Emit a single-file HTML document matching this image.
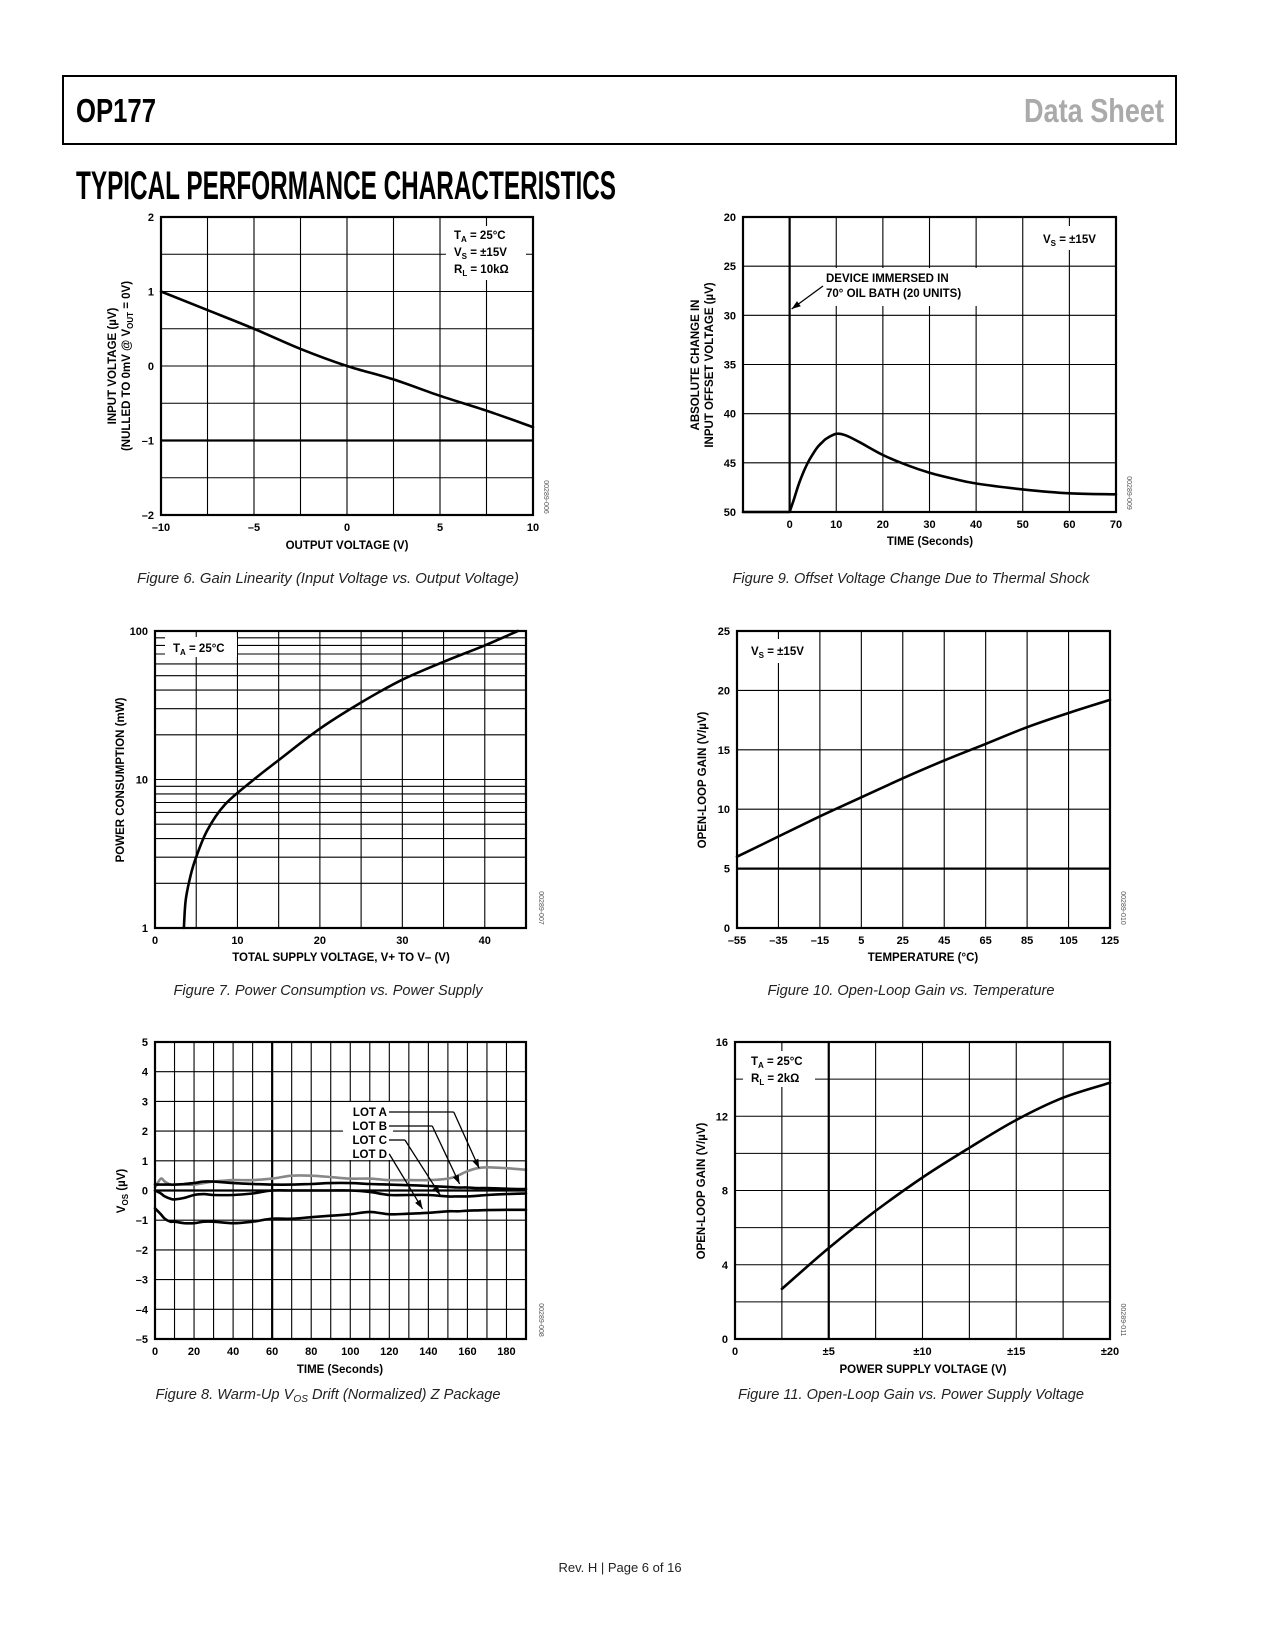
<!DOCTYPE html>
<html><head><meta charset="utf-8"><title>OP177 Typical Performance Characteristics</title>
<style>
html,body{margin:0;padding:0;background:#fff;}
svg{display:block;font-family:"Liberation Sans",sans-serif;}
.tk{font-size:11px;font-weight:bold;fill:#000;}
.at{font-size:11.5px;font-weight:bold;fill:#000;}
.cap{font-size:14.5px;font-style:italic;fill:#222;}
.code{font-size:7px;fill:#555;}
</style></head>
<body>
<svg id="page" width="1275" height="1650" viewBox="0 0 1275 1650" xmlns="http://www.w3.org/2000/svg">
<rect x="0" y="0" width="1275" height="1650" fill="#fff"/>
<rect x="63" y="76" width="1113" height="68" fill="none" stroke="#000" stroke-width="2"/>
<text x="76" y="122" font-size="33" font-weight="bold" textLength="80" lengthAdjust="spacingAndGlyphs">OP177</text>
<text x="1164" y="122" font-size="33" font-weight="bold" fill="#aaa" text-anchor="end" textLength="140" lengthAdjust="spacingAndGlyphs">Data Sheet</text>
<text x="76" y="199" font-size="40" font-weight="bold" textLength="540" lengthAdjust="spacingAndGlyphs">TYPICAL PERFORMANCE CHARACTERISTICS</text>
<text x="620" y="1572" font-size="13" text-anchor="middle" fill="#222">Rev. H | Page 6 of 16</text>
</svg>
<script>
// ---------- data ----------
const fig6X = [-10,-7.5,-5,-2.5,0,2.5,5,7.5,10];
const fig6Y = [1.0,0.75,0.5,0.23,0.0,-0.18,-0.4,-0.6,-0.82];
const fig6XTicks = [-10,-5,0,5,10];
const fig6XLabels = ['\u201310','\u20135','0','5','10'];
const fig6YTicks = [2,1,0,-1,-2];
const fig6YLabels = ['2','1','0','\u20131','\u20132'];

const fig9X = [-10,0,1,2,3,4,5,6,7,8,10,12,15,20,25,30,35,40,50,60,70];
const fig9Y = [50,50,48.6,47.1,45.9,44.9,44.1,43.4,42.9,42.5,42.05,42.2,42.9,44.2,45.2,46.0,46.6,47.1,47.7,48.1,48.2];
const fig9XTicks = [0,10,20,30,40,50,60,70];
const fig9XLabels = ['0','10','20','30','40','50','60','70'];
const fig9YTicks = [20,25,30,35,40,45,50];
const fig9YLabels = ['20','25','30','35','40','45','50'];

const fig7X = [3.5,3.7,4.1,4.8,6.3,8.5,12,15,20,25,30,35,40,44];
const fig7Y = [1,1.5,2,2.8,4.5,6.8,10,13.5,22,33,47,62,80,100];
const fig7XTicks = [0,10,20,30,40];
const fig7XLabels = ['0','10','20','30','40'];
const fig7YTicks = [1,10,100];
const fig7YLabels = ['1','10','100'];

const fig10X = [-55,-35,-15,5,25,45,65,85,105,125];
const fig10Y = [6.0,7.7,9.4,11.0,12.6,14.1,15.5,16.9,18.1,19.2];
const fig10XTicks = [-55,-35,-15,5,25,45,65,85,105,125];
const fig10XLabels = ['\u201355','\u201335','\u201315','5','25','45','65','85','105','125'];
const fig10YTicks = [0,5,10,15,20,25];
const fig10YLabels = ['0','5','10','15','20','25'];

const fig8X = [0,3,5,8,10,15,20,25,30,40,50,60,70,80,90,100,110,120,130,140,150,155,160,165,170,180,190];
const lotA = [0.1,0.4,0.3,0.2,0.2,0.2,0.2,0.25,0.3,0.35,0.35,0.4,0.5,0.5,0.45,0.4,0.4,0.35,0.35,0.35,0.4,0.5,0.65,0.75,0.78,0.75,0.7];
const lotB = [0.2,0.2,0.2,0.2,0.2,0.22,0.25,0.3,0.3,0.25,0.22,0.2,0.2,0.22,0.25,0.25,0.22,0.2,0.18,0.15,0.12,0.1,0.1,0.08,0.08,0.06,0.05];
const lotC = [0.0,-0.1,-0.2,-0.28,-0.3,-0.25,-0.15,-0.12,-0.15,-0.15,-0.1,0.0,0.0,0.0,0.0,0.0,-0.05,-0.15,-0.15,-0.15,-0.2,-0.2,-0.2,-0.18,-0.15,-0.12,-0.1];
const lotD = [-0.6,-0.8,-0.95,-1.05,-1.05,-1.1,-1.1,-1.05,-1.05,-1.1,-1.05,-0.95,-0.95,-0.9,-0.85,-0.8,-0.72,-0.8,-0.78,-0.75,-0.7,-0.7,-0.68,-0.67,-0.66,-0.65,-0.65];
const fig8XTicks = [0,20,40,60,80,100,120,140,160,180];
const fig8XLabels = ['0','20','40','60','80','100','120','140','160','180'];
const fig8YTicks = [5,4,3,2,1,0,-1,-2,-3,-4,-5];
const fig8YLabels = ['5','4','3','2','1','0','\u20131','\u20132','\u20133','\u20134','\u20135'];
const lotNames = ['LOT A','LOT B','LOT C','LOT D'];
const lotTipX = [166,156,146,137];
const lotTipY = [0.75,0.22,-0.15,-0.62];
const lotKneeX = [153,142,128,120];

const fig11X = [2.5,5,7.5,10,12.5,15,17.5,20];
const fig11Y = [2.7,4.9,6.9,8.7,10.3,11.8,13.0,13.8];
const fig11XTicks = [0,5,10,15,20];
const fig11XLabels = ['0','\u00b15','\u00b110','\u00b115','\u00b120'];
const fig11YTicks = [0,4,8,12,16];
const fig11YLabels = ['0','4','8','12','16'];

// ---------- helpers ----------
const NS = 'http://www.w3.org/2000/svg';
const svg = document.getElementById('page');
function mk(tag, attrs, parent){
  const e = document.createElementNS(NS, tag);
  for (const k in attrs) e.setAttribute(k, attrs[k]);
  (parent || svg).appendChild(e);
  return e;
}
function nm(e, n){
  
  
  return e;
}
function range(a, b, s){ const r=[]; for(let v=a; v<=b+1e-9; v+=s) r.push(+v.toFixed(6)); return r; }

function chart(o){
  const g = mk('g', {});
  nm(g, o.id);
  const sx = v => o.L + (v - o.xmin) / (o.xmax - o.xmin) * (o.R - o.L);
  const sy = o.ylog
    ? v => o.B - (Math.log10(v) - Math.log10(o.ymin)) / (Math.log10(o.ymax) - Math.log10(o.ymin)) * (o.B - o.T)
    : v => o.B - (v - o.ymin) / (o.ymax - o.ymin) * (o.B - o.T);
  o.vgrid.forEach(v => {
    const l = mk('line', {x1:sx(v), x2:sx(v), y1:o.T, y2:o.B, stroke:'#000', 'stroke-width':(o.heavyX||[]).includes(v)?2.2:1.1}, g);
    nm(l, 'vertical-gridline');
  });
  o.hgrid.forEach(v => {
    const l = mk('line', {x1:o.L, x2:o.R, y1:sy(v), y2:sy(v), stroke:'#000', 'stroke-width':(o.heavyY||[]).includes(v)?2.2:1.1}, g);
    nm(l, 'horizontal-gridline');
  });
  o.xticks.forEach((v,i) => {
    const t = mk('text', {x:sx(v), y:o.B+16, 'text-anchor':'middle', class:'tk'}, g);
    t.textContent = o.xlabels[i];
    nm(t, 'x-tick-label');
  });
  o.yticks.forEach((v,i) => {
    const t = mk('text', {x:o.L-7, y:sy(v)+4, 'text-anchor':'end', class:'tk'}, g);
    t.textContent = o.ylabels[i];
    nm(t, 'y-tick-label');
  });
  const xt = mk('text', {x:o.xtX, y:o.xtY, 'text-anchor':'middle', class:'at'}, g);
  xt.innerHTML = o.xtitle;
  nm(xt, 'x-axis-title');
  o.ytitle.forEach((s,i) => {
    const yt = mk('text', {x:0, y:0, 'text-anchor':'middle', class:'at', transform:`translate(${o.ytX[i]},${o.ytY}) rotate(-90)`}, g);
    yt.innerHTML = s;
    nm(yt, 'y-axis-title');
  });
  const cd = mk('text', {x:0, y:0, class:'code', 'text-anchor':'middle', transform:`translate(${o.codeX},${o.codeY}) rotate(90)`}, g);
  cd.textContent = o.code;
  nm(cd, 'figure-code');
  const cp = mk('text', {x:o.capX, y:o.capY, 'text-anchor':'middle', class:'cap', textLength:o.capW, lengthAdjust:'spacingAndGlyphs'}, g);
  cp.innerHTML = o.caption;
  nm(cp, 'figure-caption');
  return {g, sx, sy};
}
function frame(c, o){
  const f = mk('rect', {x:o.L, y:o.T, width:o.R-o.L, height:o.B-o.T, fill:'none', stroke:'#000', 'stroke-width':2.2}, c.g);
  nm(f, 'plot-frame');
}
function whiteBox(c, x, y, w, h){
  const r = mk('rect', {x, y, width:w, height:h, fill:'#fff'}, c.g);
  nm(r, 'legend-background');
}
function label(c, x, y, html, anchor, name){
  const t = mk('text', {x, y, class:'at', 'text-anchor':anchor||'start'}, c.g);
  t.innerHTML = html;
  nm(t, name);
}
// smooth Catmull-Rom path; points before index `sharp` are joined with straight lines
function curve(c, xs, ys, color, w, name, sharp){
  const P = xs.map((x,i) => [c.sx(x), c.sy(ys[i])]);
  const s = sharp || 0;
  let d = 'M' + P[0][0].toFixed(1) + ',' + P[0][1].toFixed(1);
  for (let i = 1; i <= s; i++) d += ' L' + P[i][0].toFixed(1) + ',' + P[i][1].toFixed(1);
  for (let i = s; i < P.length - 1; i++) {
    const p0 = i > s ? P[i-1] : P[i], p1 = P[i], p2 = P[i+1], p3 = P[i+2] || P[i+1];
    const c1 = [p1[0] + (p2[0]-p0[0])/6, p1[1] + (p2[1]-p0[1])/6];
    const c2 = [p2[0] - (p3[0]-p1[0])/6, p2[1] - (p3[1]-p1[1])/6];
    d += ` C${c1[0].toFixed(1)},${c1[1].toFixed(1)} ${c2[0].toFixed(1)},${c2[1].toFixed(1)} ${p2[0].toFixed(1)},${p2[1].toFixed(1)}`;
  }
  const p = mk('path', {d, fill:'none', stroke:color, 'stroke-width':w, 'stroke-linejoin':'round', 'stroke-linecap':'round'}, c.g);
  nm(p, name);
}
function arrow(g, x1, y1, x2, y2, name){
  const l = mk('line', {x1, y1, x2, y2, stroke:'#000', 'stroke-width':1.3}, g);
  nm(l, name);
  const a = Math.atan2(y2-y1, x2-x1), L = 9, W = 3.2;
  const bx = x2 - L*Math.cos(a), by = y2 - L*Math.sin(a);
  const h = mk('polygon', {points:`${x2},${y2} ${bx - W*Math.sin(a)},${by + W*Math.cos(a)} ${bx + W*Math.sin(a)},${by - W*Math.cos(a)}`, fill:'#000'}, g);
  nm(h, name + '-head');
}
const sub = (a,b) => `${a}<tspan dy="3" font-size="8">${b}</tspan><tspan dy="-3">`;

// ---------- Figure 6 ----------
const o6 = {id:'figure-6-gain-linearity', L:161, R:533, T:217, B:515, xmin:-10, xmax:10, ymin:-2, ymax:2,
  vgrid:range(-10,10,2.5), hgrid:range(-2,2,0.5), heavyY:[-1],
  xticks:fig6XTicks, xlabels:fig6XLabels, yticks:fig6YTicks, ylabels:fig6YLabels,
  xtitle:'OUTPUT VOLTAGE (V)', xtX:347, xtY:549,
  ytitle:['INPUT VOLTAGE (\u00b5V)', '(NULLED TO 0mV @ V<tspan dy="3" font-size="8">OUT</tspan><tspan dy="-3"> = 0V)</tspan>'], ytX:[116,130], ytY:366,
  code:'00289-006', codeX:544, codeY:497,
  caption:'Figure 6. Gain Linearity (Input Voltage vs. Output Voltage)', capX:328, capY:583, capW:382};
const c6 = chart(o6);
whiteBox(c6, 446, 226, 80, 54);
label(c6, 454, 239, sub('T','A')+' = 25\u00b0C</tspan>', 'start', 'legend-temperature');
label(c6, 454, 256, sub('V','S')+' = \u00b115V</tspan>', 'start', 'legend-supply');
label(c6, 454, 273, sub('R','L')+' = 10k\u03a9</tspan>', 'start', 'legend-load');
curve(c6, fig6X, fig6Y, '#000', 2.6, 'gain-linearity-curve');
frame(c6, o6);

// ---------- Figure 9 ----------
const o9 = {id:'figure-9-thermal-shock', L:743, R:1116, T:217, B:512, xmin:-10, xmax:70, ymin:50, ymax:20,
  vgrid:range(-10,70,10), hgrid:range(20,50,5), heavyX:[0],
  xticks:fig9XTicks, xlabels:fig9XLabels, yticks:fig9YTicks, ylabels:fig9YLabels,
  xtitle:'TIME (Seconds)', xtX:930, xtY:545,
  ytitle:['ABSOLUTE CHANGE IN','INPUT OFFSET VOLTAGE (\u00b5V)'], ytX:[699,713], ytY:365,
  code:'00289-009', codeX:1127, codeY:493,
  caption:'Figure 9. Offset Voltage Change Due to Thermal Shock', capX:911, capY:583, capW:357};
const c9 = chart(o9);
whiteBox(c9, 1033, 226, 78, 24);
label(c9, 1043, 243, sub('V','S')+' = \u00b115V</tspan>', 'start', 'legend-supply');
whiteBox(c9, 818, 268, 162, 38);
label(c9, 826, 282, 'DEVICE IMMERSED IN', 'start', 'annotation-line-1');
label(c9, 826, 297, '70\u00b0 OIL BATH (20 UNITS)', 'start', 'annotation-line-2');
arrow(c9.g, 823, 286, c9.sx(0)+2, 309, 'annotation-arrow');
curve(c9, fig9X, fig9Y, '#000', 2.6, 'offset-change-curve', 1);
frame(c9, o9);

// ---------- Figure 7 ----------
const logGrid = [];
[1,10].forEach(d => { for (let k=1;k<10;k++) logGrid.push(d*k); });
logGrid.push(100);
const o7 = {id:'figure-7-power-consumption', L:155, R:526, T:631, B:928, xmin:0, xmax:45, ymin:1, ymax:100, ylog:true,
  vgrid:range(0,45,5), hgrid:logGrid,
  xticks:fig7XTicks, xlabels:fig7XLabels, yticks:fig7YTicks, ylabels:fig7YLabels,
  xtitle:'TOTAL SUPPLY VOLTAGE, V+ TO V\u2013 (V)', xtX:341, xtY:961,
  ytitle:['POWER CONSUMPTION (mW)'], ytX:[124], ytY:780,
  code:'00289-007', codeX:539, codeY:908,
  caption:'Figure 7. Power Consumption vs. Power Supply', capX:328, capY:995, capW:309};
const c7 = chart(o7);
whiteBox(c7, 165, 637, 72, 20);
label(c7, 173, 652, sub('T','A')+' = 25\u00b0C</tspan>', 'start', 'legend-temperature');
curve(c7, fig7X, fig7Y, '#000', 2.6, 'power-consumption-curve');
frame(c7, o7);

// ---------- Figure 10 ----------
const o10 = {id:'figure-10-gain-vs-temperature', L:737, R:1110, T:631, B:928, xmin:-55, xmax:125, ymin:0, ymax:25,
  vgrid:range(-55,125,20), hgrid:range(0,25,5), heavyY:[5],
  xticks:fig10XTicks, xlabels:fig10XLabels, yticks:fig10YTicks, ylabels:fig10YLabels,
  xtitle:'TEMPERATURE (\u00b0C)', xtX:923, xtY:961,
  ytitle:['OPEN-LOOP GAIN (V/\u00b5V)'], ytX:[706], ytY:780,
  code:'00289-010', codeX:1121, codeY:908,
  caption:'Figure 10. Open-Loop Gain vs. Temperature', capX:911, capY:995, capW:287};
const c10 = chart(o10);
whiteBox(c10, 745, 639, 70, 24);
label(c10, 751, 655, sub('V','S')+' = \u00b115V</tspan>', 'start', 'legend-supply');
curve(c10, fig10X, fig10Y, '#000', 2.6, 'open-loop-gain-curve');
frame(c10, o10);

// ---------- Figure 8 ----------
const o8 = {id:'figure-8-warm-up-drift', L:155, R:526, T:1042, B:1339, xmin:0, xmax:190, ymin:-5, ymax:5,
  vgrid:range(0,190,10), hgrid:range(-5,5,1), heavyX:[60], heavyY:[0],
  xticks:fig8XTicks, xlabels:fig8XLabels, yticks:fig8YTicks, ylabels:fig8YLabels,
  xtitle:'TIME (Seconds)', xtX:340, xtY:1373,
  ytitle:['V<tspan dy="3" font-size="8">OS</tspan><tspan dy="-3"> (\u00b5V)</tspan>'], ytX:[125], ytY:1191,
  code:'00289-008', codeX:539, codeY:1320,
  caption:'Figure 8. Warm-Up V<tspan dy="3" font-size="10">OS</tspan><tspan dy="-3"> Drift (Normalized) Z Package</tspan>', capX:328, capY:1399, capW:345};
const c8 = chart(o8);
whiteBox(c8, 343, 1102, 50, 58);
const lotLabelY = [1116, 1130, 1144, 1158];
lotNames.forEach((n,i) => {
  label(c8, 387, lotLabelY[i], n, 'end', 'legend-lot-' + 'abcd'[i]);
});
curve(c8, fig8X, lotA, '#888', 2.6, 'lot-a-line');
curve(c8, fig8X, lotB, '#000', 2.6, 'lot-b-line');
curve(c8, fig8X, lotC, '#000', 2.6, 'lot-c-line');
curve(c8, fig8X, lotD, '#000', 2.6, 'lot-d-line');
lotNames.forEach((n,i) => {
  const ly = lotLabelY[i] - 4;
  const kx = c8.sx(lotKneeX[i]);
  const hl = mk('line', {x1:389, y1:ly, x2:kx, y2:ly, stroke:'#000', 'stroke-width':1.3}, c8.g);
  nm(hl, 'lot-leader-line');
  arrow(c8.g, kx, ly, c8.sx(lotTipX[i]), c8.sy(lotTipY[i]), 'lot-leader-arrow');
});
frame(c8, o8);

// ---------- Figure 11 ----------
const o11 = {id:'figure-11-gain-vs-supply', L:735, R:1110, T:1042, B:1339, xmin:0, xmax:20, ymin:0, ymax:16,
  vgrid:range(0,20,2.5), hgrid:range(0,16,2), heavyX:[5],
  xticks:fig11XTicks, xlabels:fig11XLabels, yticks:fig11YTicks, ylabels:fig11YLabels,
  xtitle:'POWER SUPPLY VOLTAGE (V)', xtX:923, xtY:1373,
  ytitle:['OPEN-LOOP GAIN (V/\u00b5V)'], ytX:[705], ytY:1191,
  code:'00289-011', codeX:1121, codeY:1320,
  caption:'Figure 11. Open-Loop Gain vs. Power Supply Voltage', capX:911, capY:1399, capW:346};
const c11 = chart(o11);
whiteBox(c11, 743, 1051, 72, 36);
label(c11, 751, 1065, sub('T','A')+' = 25\u00b0C</tspan>', 'start', 'legend-temperature');
label(c11, 751, 1082, sub('R','L')+' = 2k\u03a9</tspan>', 'start', 'legend-load');
curve(c11, fig11X, fig11Y, '#000', 2.6, 'open-loop-gain-curve');
frame(c11, o11);
</script>
</body></html>
